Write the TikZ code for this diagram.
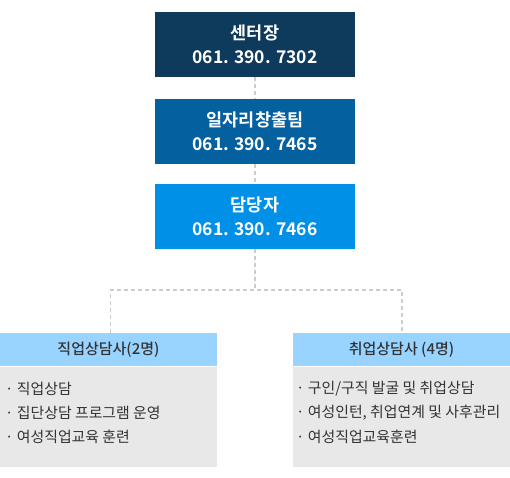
\documentclass[tikz,border=0pt]{standalone}
\usepackage{fontspec}
\setmainfont{Noto Sans CJK KR}
\newfontfamily\krbold{Noto Sans CJK KR Bold}
\newfontfamily\krmed{Noto Sans CJK KR Medium}
\definecolor{cdark}{HTML}{0E3A5C}
\definecolor{cmid}{HTML}{0560A0}
\definecolor{cbright}{HTML}{0090E8}
\definecolor{clight}{HTML}{98D4FF}
\definecolor{cgray}{HTML}{E8E8E8}
\definecolor{cline}{HTML}{CCCCCC}
\definecolor{ctext}{HTML}{333333}
\begin{document}
\begin{tikzpicture}[x=1pt,y=-1pt,
  topbox/.style={draw=none,minimum width=200pt,minimum height=65pt,inner sep=0pt,text=white,align=center,font=\krbold\fontsize{17.5}{24}\selectfont},
  headbox/.style={minimum height=33pt,inner sep=0pt,text=ctext,font=\krmed\fontsize{15}{16}\selectfont},
  item/.style={anchor=west,inner sep=0pt,text=ctext,font=\fontsize{14.9}{15}\selectfont},
  conn/.style={draw=cline,line width=1.4pt,dash pattern=on 4pt off 3pt}]
\useasboundingbox (0,0) rectangle (510,477);
\node[topbox,fill=cdark] (c) at (255,44.5) {센터장\\061. 390. 7302};
\node[topbox,fill=cmid] (t) at (255,131) {일자리창출팀\\061. 390. 7465};
\node[topbox,fill=cbright] (d) at (255,216) {담당자\\061. 390. 7466};
% left
\fill[clight] (0,333) rectangle (217,366);
\node[headbox] (lh) at (108.5,349.5) {직업상담사(2명)};
\fill[cgray] (0,366.5) rectangle (217,467);
\node[item] (l1) at (5,389) {· 직업상담};
\node[item] (l2) at (5,413) {· 집단상담 프로그램 운영};
\node[item] (l3) at (5,437) {· 여성직업교육 훈련};
% right
\fill[clight] (293,333) rectangle (510,366);
\node[headbox] (rh) at (401.5,349.5) {취업상담사 (4명)};
\fill[cgray] (293,366.5) rectangle (510,467);
\node[item] (r1) at (296,389) {· 구인/구직 발굴 및 취업상담};
\node[item] (r2) at (296,413) {· 여성인턴, 취업연계 및 사후관리};
\node[item] (r3) at (296,437) {· 여성직업교육훈련};
\coordinate (lt) at (110.5,333);
\coordinate (rt) at (402,333);
\coordinate (mid) at (255,290);
\draw[conn] (c.south) -- (t.north);
\draw[conn] (t.south) -- (d.north);
\draw[conn] (d.south) -- (mid);
\draw[conn] (lt) -- (lt |- mid) -- (rt |- mid) -- (rt);
\end{tikzpicture}
\end{document}
